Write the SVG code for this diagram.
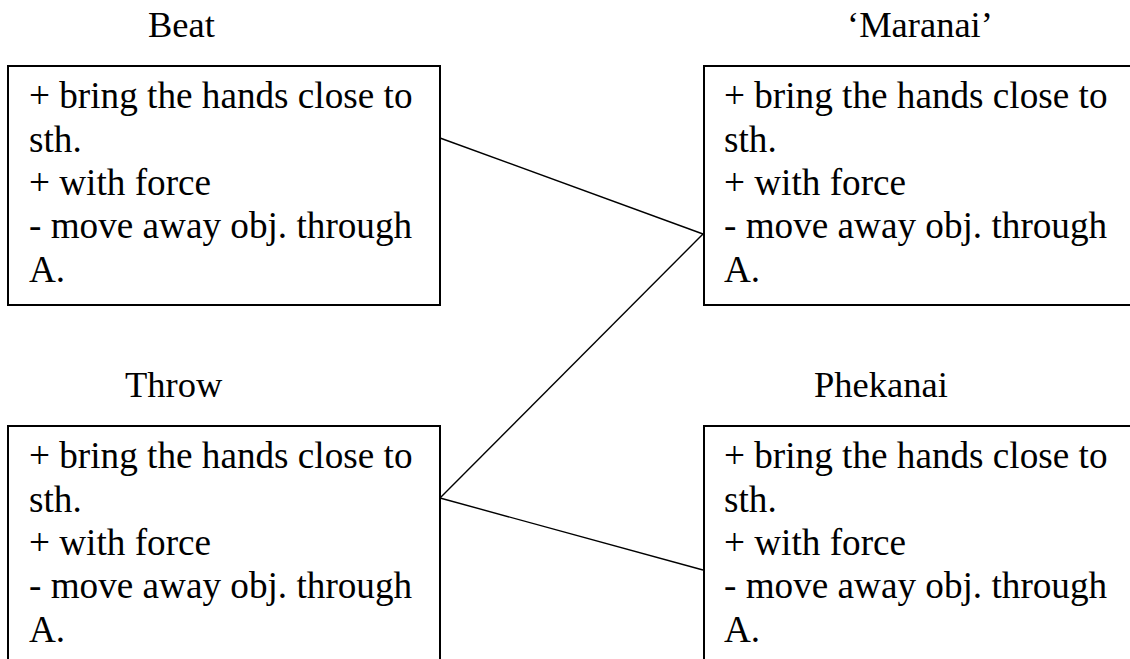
<svg xmlns="http://www.w3.org/2000/svg" width="1130" height="659" viewBox="0 0 1130 659">
  <style>
    .box { fill: #fff; stroke: #000; stroke-width: 2; }
    .title { font-family: "Liberation Serif", "Times New Roman", serif; font-size: 36.5px; fill: #000; }
    .body { font-family: "Liberation Serif", "Times New Roman", serif; font-size: 37.2px; fill: #000; }
    .link { stroke: #000; stroke-width: 1.4; fill: none; }
  </style>
  <rect width="1130" height="659" fill="#fff"/>

  <g id="beat">
    <text class="title" x="148" y="37">Beat</text>
    <rect class="box" x="8" y="66" width="432" height="239"/>
    <text class="body">
      <tspan x="29" y="108">+ bring the hands close to</tspan>
      <tspan x="29" y="152">sth.</tspan>
      <tspan x="29" y="195">+ with force</tspan>
      <tspan x="29" y="238">- move away obj. through</tspan>
      <tspan x="29" y="282">A.</tspan>
    </text>
  </g>

  <g id="maranai">
    <text class="title" x="847" y="37">‘Maranai’</text>
    <rect class="box" x="704" y="66" width="440" height="239"/>
    <text class="body">
      <tspan x="724" y="108">+ bring the hands close to</tspan>
      <tspan x="724" y="152">sth.</tspan>
      <tspan x="724" y="195">+ with force</tspan>
      <tspan x="724" y="238">- move away obj. through</tspan>
      <tspan x="724" y="282">A.</tspan>
    </text>
  </g>

  <g id="throw">
    <text class="title" x="125" y="397">Throw</text>
    <rect class="box" x="8" y="426" width="432" height="250"/>
    <text class="body">
      <tspan x="29" y="468">+ bring the hands close to</tspan>
      <tspan x="29" y="512">sth.</tspan>
      <tspan x="29" y="555">+ with force</tspan>
      <tspan x="29" y="598">- move away obj. through</tspan>
      <tspan x="29" y="642">A.</tspan>
    </text>
  </g>

  <g id="phekanai">
    <text class="title" x="814" y="397">Phekanai</text>
    <rect class="box" x="704" y="426" width="440" height="250"/>
    <text class="body">
      <tspan x="724" y="468">+ bring the hands close to</tspan>
      <tspan x="724" y="512">sth.</tspan>
      <tspan x="724" y="555">+ with force</tspan>
      <tspan x="724" y="598">- move away obj. through</tspan>
      <tspan x="724" y="642">A.</tspan>
    </text>
  </g>

  <g id="connectors">
    <line class="link" x1="440" y1="138" x2="703" y2="234"/>
    <line class="link" x1="703" y1="234" x2="440" y2="498"/>
    <line class="link" x1="440" y1="498" x2="703" y2="570"/>
  </g>
</svg>
